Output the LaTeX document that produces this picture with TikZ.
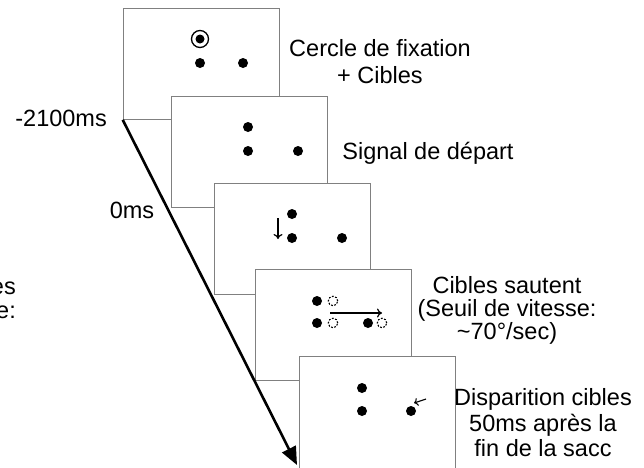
\documentclass[tikz,border=0pt]{standalone}
\usepackage{fontspec}
\setmainfont{Liberation Sans}
\usetikzlibrary{arrows.meta}

\tikzset{
  screen/.style={rectangle, draw=black!50, line width=0.8pt, fill=white,
    inner sep=0pt, minimum width=156pt, minimum height=111pt, anchor=north west},
  target/.style={circle, fill=black, inner sep=0pt, minimum size=10pt},
  ghost/.style={circle, draw=black, line width=1.1pt, dash pattern=on 1.8pt off 1.5pt,
    inner sep=0pt, minimum size=9.5pt},
  lbl/.style={align=center, inner sep=0pt, font=\fontsize{23.5}{25}\selectfont},
}

\begin{document}
\begin{tikzpicture}[x=1pt,y=-1pt]
  \useasboundingbox (0,0) rectangle (644,467);
  % screens
  \node[screen] (f1) at (122.7,8)  {};
  \node[screen] (f2) at (171,96)   {};
  \node[screen] (f3) at (214,183)  {};
  \node[screen] (f4) at (255,269)  {};
  \node[screen, minimum height=116pt] (f5) at (299,356) {};
  % screen 1: fixation + targets
  \node[circle, draw, line width=1.3pt, minimum size=17pt, inner sep=0pt] (fix) at (200,39) {};
  \node[target, minimum size=9pt] (fixc) at (fix) {};
  \node[target] (a1) at (200,63) {};
  \node[target] (b1) at (243,63) {};
  % screen 2
  \node[target] (c2) at (248,127) {};
  \node[target] (a2) at (248,151) {};
  \node[target] (b2) at (298,151) {};
  % screen 3
  \node[target] (c3) at (292,214) {};
  \node[target] (a3) at (292,238) {};
  \node[target] (b3) at (342,238) {};
  \coordinate (d3s) at (278,218); \coordinate (d3e) at (278,239);
  \draw[line width=1.2pt, -{To[length=5pt,width=9pt]}] (d3s) -- (d3e);
  % screen 4: targets jump
  \node[target] (c4) at (317,301) {};
  \node[target] (a4) at (317,323) {};
  \node[target] (b4) at (368,323) {};
  \node[ghost]  (c4g) at (333,301) {};
  \node[ghost]  (a4g) at (333,323) {};
  \node[ghost]  (b4g) at (382,323) {};
  \coordinate (j4s) at (330,313); \coordinate (j4e) at (382,313);
  \draw[line width=1.2pt, -{To[length=5pt,width=9pt]}] (j4s) -- (j4e);
  % screen 5
  \node[target] (c5) at (362,388) {};
  \node[target] (a5) at (362,411) {};
  \node[target] (b5) at (411,411) {};
  \coordinate (r5s) at (426,399); \coordinate (r5e) at (414,403);
  \draw[line width=1.1pt, -{To[length=4pt,width=8pt]}] (r5s) -- (r5e);
  % time axis
  \coordinate (tEnd) at (297,465);
  \draw[line width=2.6pt, -{Triangle[length=18pt,width=15pt]}] (f1.south west) -- (tEnd);
  \node[lbl, anchor=east] (tA) at (107,118) {-2100ms};
  \node[lbl] (tB) at (132,210) {0ms};
  \node[lbl, anchor=east, align=right, font=\fontsize{23.5}{24}\selectfont] (cut) at (16,300) {es\\e:};
  % labels
  \node[lbl, font=\fontsize{23.5}{27}\selectfont] (l1) at (380,61.5) {Cercle de fixation\\+ Cibles};
  \node[lbl] (l2) at (428,153) {Signal de départ};
  \node[lbl, font=\fontsize{23.5}{23}\selectfont] (l4) at (507,310) {Cibles sautent\\(Seuil de vitesse:\\\textasciitilde70°/sec)};
  \node[lbl, font=\fontsize{23.5}{25.5}\selectfont] (l5) at (543,423) {Disparition cibles\\50ms après la\\fin de la sacc};
\end{tikzpicture}
\end{document}
